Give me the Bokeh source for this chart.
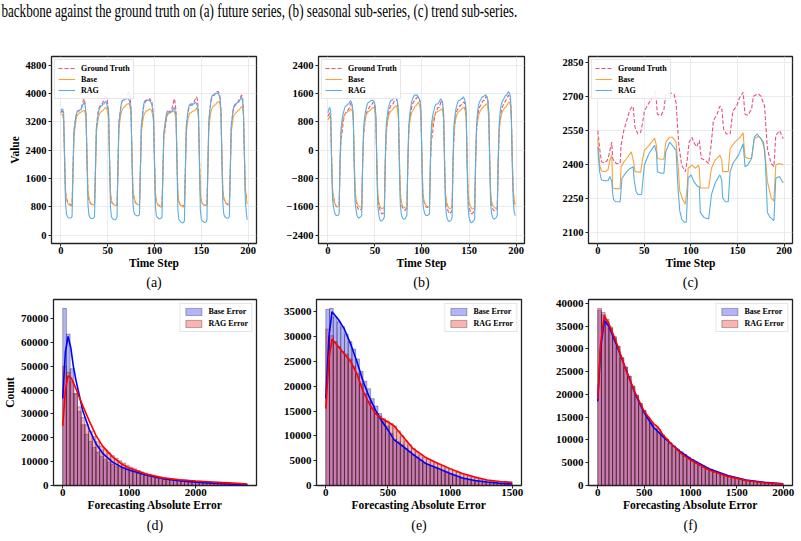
import numpy as np
from bokeh.plotting import figure
from bokeh.models import Range1d, FixedTicker, Title, Div
from bokeh.layouts import column, row
from bokeh.embed import file_html
from bokeh.resources import INLINE

# ---------------------------------------------------------------- data
caption = ("backbone against the ground truth on (a) future series, "
           "(b) seasonal sub-series, (c) trend sub-series.")
panel_labels = ["(a)", "(b)", "(c)", "(d)", "(e)", "(f)"]
series_names = ["Ground Truth", "Base", "RAG"]
hist_names = ["Base Error", "RAG Error"]

time_step = list(range(200))

a_gt = ([3450, 3500, 3480] +
        [3300, 2200, 1200, 1050, 950, 900, 880, 860, 850, 870, 1900, 2950, 3150, 3300, 3450, 3500, 3500, 3520, 3550, 3600, 3700, 3800, 3850, 3700] +
        [3300, 2100, 1150, 1000, 920, 880, 860, 850, 840, 860, 1900, 3000, 3300, 3500, 3600, 3650, 3700, 3700, 3750, 3800, 3850, 3900, 3880, 3700] +
        [3400, 2200, 1150, 950, 900, 870, 850, 840, 830, 860, 1900, 3100, 3400, 3600, 3750, 3800, 3800, 3850, 3850, 3900, 3950, 4000, 4050, 3900] +
        [3500, 2200, 1200, 1050, 950, 900, 880, 860, 850, 870, 1900, 3000, 3300, 3550, 3700, 3750, 3780, 3800, 3800, 3820, 3850, 3800, 3800, 3600] +
        [3300, 2100, 1100, 950, 880, 850, 830, 820, 800, 830, 1800, 2850, 2900, 3100, 3300, 3400, 3500, 3500, 3450, 3500, 3600, 3700, 3850, 3750] +
        [3500, 2200, 1150, 950, 880, 850, 840, 830, 820, 850, 1900, 3000, 3300, 3500, 3600, 3650, 3700, 3700, 3750, 3750, 3800, 3850, 3900, 3800] +
        [3400, 2200, 1150, 950, 900, 860, 850, 840, 830, 860, 1900, 3100, 3500, 3700, 3850, 3900, 3950, 3950, 4000, 4000, 4050, 4050, 4000, 3900] +
        [3500, 2200, 1200, 1050, 950, 900, 880, 860, 850, 870, 1900, 3000, 3300, 3500, 3600, 3650, 3700, 3700, 3750, 3800, 3850, 3900, 3950, 3900] +
        [3500, 2300, 1250, 1100, 1000])
a_base = ([3400, 3420, 3380] +
          [3250, 2300, 1300, 1000, 920, 880, 850, 830, 820, 840, 1800, 2750, 3000, 3200, 3350, 3400, 3420, 3450, 3450, 3480, 3500, 3500, 3520, 3450] +
          [3200, 2200, 1250, 1050, 950, 900, 870, 860, 850, 870, 1800, 2900, 3100, 3300, 3400, 3450, 3480, 3500, 3520, 3550, 3580, 3600, 3580, 3450] +
          [3300, 2200, 1250, 950, 900, 870, 850, 840, 830, 860, 1800, 2950, 3200, 3400, 3500, 3550, 3600, 3620, 3650, 3680, 3700, 3700, 3720, 3600] +
          [3400, 2300, 1300, 1100, 980, 920, 880, 860, 850, 870, 1800, 2900, 3100, 3300, 3400, 3450, 3500, 3500, 3520, 3550, 3550, 3550, 3500, 3400] +
          [3200, 2200, 1200, 950, 880, 840, 820, 800, 780, 800, 1700, 2800, 3000, 3200, 3350, 3400, 3420, 3450, 3450, 3480, 3480, 3500, 3500, 3400] +
          [3300, 2200, 1200, 950, 880, 840, 820, 800, 790, 820, 1800, 2900, 3100, 3300, 3400, 3450, 3450, 3480, 3500, 3500, 3520, 3550, 3600, 3500] +
          [3300, 2200, 1250, 950, 900, 870, 850, 840, 830, 850, 1800, 2950, 3250, 3450, 3550, 3600, 3650, 3650, 3700, 3700, 3750, 3750, 3780, 3700] +
          [3400, 2300, 1300, 1050, 980, 920, 900, 880, 870, 880, 1800, 2900, 3100, 3300, 3400, 3420, 3450, 3480, 3500, 3520, 3550, 3600, 3620, 3600] +
          [3400, 2400, 1350, 1050, 870])
a_rag = ([3500, 3550, 3560] +
         [3450, 2100, 900, 600, 520, 490, 480, 480, 490, 520, 1700, 2900, 3100, 3350, 3450, 3500, 3500, 3520, 3550, 3550, 3650, 3700, 3750, 3650] +
         [3400, 2000, 850, 580, 500, 470, 460, 470, 480, 520, 1800, 3050, 3200, 3450, 3550, 3600, 3650, 3650, 3700, 3700, 3750, 3770, 3700, 3600] +
         [3500, 2100, 800, 520, 470, 440, 430, 430, 450, 500, 1900, 3200, 3350, 3600, 3750, 3800, 3800, 3820, 3850, 3850, 3850, 3850, 3800, 3700] +
         [3550, 2100, 900, 650, 580, 560, 550, 540, 550, 580, 1900, 3100, 3300, 3600, 3750, 3800, 3800, 3820, 3800, 3800, 3780, 3750, 3700, 3550] +
         [3350, 2000, 800, 550, 500, 480, 460, 460, 470, 500, 1700, 2900, 3100, 3300, 3450, 3500, 3480, 3450, 3450, 3500, 3500, 3550, 3600, 3500] +
         [3400, 2000, 700, 450, 400, 370, 350, 340, 350, 400, 1800, 3100, 3300, 3550, 3650, 3700, 3680, 3650, 3700, 3700, 3720, 3750, 3700, 3650] +
         [3450, 2000, 700, 450, 400, 380, 360, 350, 370, 420, 1900, 3200, 3500, 3750, 3900, 3950, 3950, 3950, 4000, 4000, 4000, 4000, 3950, 3850] +
         [3500, 2100, 900, 600, 520, 500, 480, 470, 480, 520, 1900, 3100, 3300, 3550, 3650, 3700, 3700, 3720, 3750, 3750, 3800, 3850, 3900, 3800] +
         [3500, 2200, 1000, 650, 430])

b_gt = ([950, 1000, 1050] +
        [900, -300, -1200, -1350, -1500, -1550, -1600, -1600, -1600, -1550, -400, 300, 450, 700, 900, 1000, 1050, 1100, 1100, 1150, 1200, 1300, 1350, 1200] +
        [900, -300, -1250, -1450, -1600, -1650, -1700, -1700, -1680, -1650, -400, 400, 700, 900, 1050, 1100, 1150, 1200, 1250, 1250, 1300, 1350, 1300, 1200] +
        [900, -300, -1300, -1500, -1650, -1750, -1800, -1800, -1780, -1700, -400, 400, 750, 950, 1100, 1200, 1250, 1300, 1300, 1350, 1400, 1450, 1450, 1300] +
        [1000, -300, -1300, -1500, -1600, -1650, -1700, -1700, -1680, -1650, -400, 500, 850, 1050, 1200, 1300, 1350, 1400, 1450, 1450, 1500, 1500, 1450, 1350] +
        [900, -300, -1300, -1450, -1550, -1600, -1620, -1620, -1600, -1580, -400, 300, 400, 650, 850, 1000, 1100, 1150, 1200, 1200, 1250, 1350, 1400, 1300] +
        [1000, -300, -1300, -1500, -1650, -1750, -1800, -1780, -1750, -1700, -400, 400, 750, 950, 1100, 1150, 1200, 1250, 1250, 1300, 1300, 1350, 1350, 1250] +
        [1000, -300, -1300, -1550, -1700, -1800, -1800, -1780, -1750, -1700, -400, 500, 900, 1100, 1200, 1250, 1300, 1350, 1400, 1400, 1450, 1500, 1500, 1400] +
        [1000, -300, -1300, -1500, -1650, -1700, -1720, -1700, -1680, -1650, -400, 500, 850, 1050, 1200, 1250, 1300, 1350, 1400, 1450, 1500, 1550, 1500, 1400] +
        [900, -300, -1250, -1450, -1600])
b_base = ([850, 900, 950] +
          [850, -200, -1100, -1300, -1450, -1550, -1580, -1600, -1600, -1580, -300, 500, 700, 850, 950, 1000, 1050, 1050, 1080, 1100, 1100, 1150, 1150, 1100] +
          [850, -200, -1150, -1400, -1500, -1550, -1600, -1600, -1600, -1580, -300, 500, 750, 900, 1000, 1050, 1080, 1100, 1120, 1150, 1180, 1200, 1200, 1100] +
          [850, -200, -1200, -1450, -1550, -1620, -1650, -1650, -1640, -1600, -300, 500, 750, 900, 1000, 1050, 1100, 1120, 1150, 1200, 1200, 1250, 1250, 1150] +
          [900, -200, -1200, -1450, -1550, -1600, -1620, -1640, -1640, -1600, -300, 550, 800, 950, 1050, 1100, 1150, 1200, 1250, 1250, 1300, 1350, 1300, 1200] +
          [900, -200, -1200, -1400, -1500, -1550, -1580, -1600, -1600, -1580, -300, 500, 700, 850, 950, 1000, 1050, 1080, 1100, 1100, 1120, 1150, 1150, 1100] +
          [850, -200, -1200, -1450, -1550, -1620, -1650, -1650, -1640, -1600, -300, 500, 750, 900, 1000, 1050, 1080, 1100, 1120, 1150, 1180, 1200, 1200, 1100] +
          [900, -200, -1200, -1450, -1550, -1620, -1650, -1660, -1650, -1620, -300, 600, 800, 950, 1050, 1100, 1150, 1180, 1200, 1250, 1250, 1300, 1300, 1200] +
          [900, -200, -1200, -1450, -1550, -1600, -1620, -1640, -1650, -1620, -300, 550, 800, 950, 1050, 1100, 1150, 1200, 1200, 1250, 1300, 1350, 1350, 1250] +
          [800, -200, -1150, -1400, -1550])
b_rag = ([1050, 1150, 1200] +
         [1100, -400, -1400, -1600, -1750, -1820, -1850, -1850, -1840, -1800, -200, 600, 850, 1000, 1100, 1200, 1250, 1250, 1300, 1300, 1350, 1400, 1350, 1250] +
         [1000, -500, -1500, -1700, -1850, -1900, -1920, -1900, -1880, -1850, -300, 600, 900, 1100, 1200, 1300, 1350, 1350, 1380, 1400, 1400, 1400, 1350, 1300] +
         [1000, -500, -1550, -1800, -1950, -2000, -2000, -1980, -1950, -1900, -300, 700, 950, 1150, 1250, 1350, 1400, 1400, 1450, 1450, 1500, 1500, 1450, 1350] +
         [1100, -500, -1550, -1800, -1900, -1950, -1950, -1950, -1900, -1850, -300, 700, 1000, 1200, 1350, 1450, 1500, 1550, 1550, 1550, 1550, 1500, 1450, 1400] +
         [1100, -500, -1500, -1700, -1800, -1850, -1850, -1850, -1820, -1800, -300, 700, 900, 1050, 1150, 1250, 1300, 1300, 1300, 1350, 1400, 1450, 1400, 1300] +
         [1000, -500, -1550, -1850, -1950, -2000, -2020, -2000, -1980, -1900, -300, 700, 950, 1150, 1250, 1350, 1400, 1400, 1420, 1450, 1450, 1500, 1450, 1350] +
         [1100, -500, -1600, -1900, -2000, -2050, -2050, -2020, -2000, -1950, -300, 700, 1050, 1250, 1350, 1400, 1450, 1500, 1500, 1520, 1550, 1550, 1500, 1400] +
         [1100, -500, -1550, -1800, -1900, -1950, -1950, -1930, -1900, -1850, -300, 700, 1050, 1250, 1350, 1400, 1450, 1500, 1550, 1550, 1600, 1650, 1600, 1500] +
         [1000, -500, -1450, -1750, -1850])

c_gt_step = [0, 2, 4, 7, 10, 12, 14, 15, 16, 18, 20, 24, 25, 28, 31, 34, 37, 38, 40, 43,
             46, 48, 50, 54, 57, 60, 62, 64, 68, 71, 73, 78, 82, 84, 87, 90, 94, 96, 98, 101,
             103, 106, 109, 111, 115, 119, 122, 124, 128, 131, 133, 135, 138, 142, 145, 149, 152, 156, 158, 161,
             165, 167, 172, 175, 179, 182, 186, 189, 191, 195, 199]
c_gt = [2548, 2470, 2411, 2405, 2415, 2440, 2480, 2497, 2425, 2410, 2403, 2403, 2483, 2550, 2591, 2635, 2656, 2650, 2562, 2533,
        2540, 2580, 2635, 2663, 2685, 2705, 2721, 2620, 2615, 2642, 2707, 2714, 2707, 2671, 2483, 2396, 2367, 2420, 2497, 2519,
        2497, 2476, 2505, 2425, 2418, 2403, 2497, 2591, 2620, 2656, 2650, 2555, 2533, 2533, 2635, 2656, 2692, 2717, 2620, 2616,
        2642, 2700, 2711, 2700, 2656, 2468, 2403, 2389, 2526, 2548, 2512]
c_base_step = [0, 2, 4, 8, 11, 13, 15, 16, 19, 24, 25, 28, 31, 36, 38, 40, 46, 48, 50, 55,
               61, 63, 64, 68, 71, 73, 77, 80, 84, 86, 88, 91, 94, 96, 97, 101, 105, 108, 109, 110,
               115, 119, 122, 126, 131, 133, 134, 140, 142, 147, 152, 156, 157, 158, 161, 165, 168, 172, 175, 179,
               182, 186, 189, 191, 195, 199]
c_base = [2512, 2396, 2370, 2367, 2375, 2418, 2440, 2295, 2292, 2292, 2389, 2410, 2425, 2454, 2420, 2367, 2364, 2420, 2461, 2483,
          2515, 2480, 2425, 2422, 2422, 2497, 2519, 2519, 2497, 2400, 2281, 2245, 2223, 2300, 2382, 2396, 2382, 2396, 2380, 2295,
          2295, 2295, 2382, 2418, 2440, 2420, 2367, 2367, 2468, 2497, 2515, 2538, 2480, 2432, 2425, 2425, 2512, 2522, 2515, 2468,
          2324, 2252, 2237, 2396, 2403, 2396]
c_rag_step = [0, 2, 4, 8, 11, 13, 15, 16, 17, 19, 24, 26, 31, 34, 38, 39, 41, 43, 47, 50,
              55, 61, 63, 64, 68, 71, 73, 77, 80, 84, 86, 88, 90, 93, 95, 97, 100, 103, 107, 109,
              110, 114, 119, 122, 126, 131, 133, 134, 137, 140, 142, 145, 151, 156, 157, 158, 161, 165, 168, 171,
              175, 178, 180, 182, 185, 189, 191, 195, 199]
c_rag = [2476, 2367, 2330, 2327, 2327, 2346, 2324, 2270, 2245, 2234, 2234, 2338, 2367, 2379, 2389, 2330, 2281, 2266, 2266, 2396,
         2447, 2483, 2450, 2367, 2360, 2360, 2454, 2497, 2483, 2461, 2300, 2194, 2158, 2143, 2145, 2338, 2353, 2324, 2302, 2300,
         2187, 2165, 2158, 2266, 2317, 2353, 2330, 2252, 2234, 2234, 2367, 2403, 2440, 2490, 2440, 2389, 2396, 2425, 2519, 2533,
         2512, 2497, 2400, 2187, 2165, 2151, 2338, 2346, 2317]

# histograms: 50 equal bins from 0 to the largest error
d_max_err = 2775
d_base = [74300, 63500, 49000, 38500, 31000, 25500, 21500, 18500, 16000, 14000,
          12300, 11000, 9900, 9000, 8200, 7500, 7000, 6600, 6100, 5600,
          5100, 4700, 4300, 3900, 3500, 3200, 3000, 2800, 2650, 2500,
          2350, 2200, 2050, 1900, 1750, 1600, 1450, 1350, 1250, 1150,
          1050, 950, 850, 780, 700, 620, 550, 480, 400, 330]
d_rag = [50000, 47500, 43500, 38500, 33000, 28500, 25500, 22800, 20500, 18300,
         16500, 15000, 13700, 12500, 11400, 10400, 9400, 8500, 7700, 7000,
         6300, 5700, 5200, 4700, 4300, 3900, 3600, 3300, 3050, 2850,
         2700, 2550, 2400, 2250, 2100, 1950, 1850, 1750, 1650, 1550,
         1450, 1350, 1250, 1150, 1050, 950, 850, 780, 700, 630]
d_kde_x = [0, 40, 80, 120, 160, 200, 300, 400, 500, 600, 750, 900, 1000, 1250, 1500, 1750, 2000, 2250, 2500, 2775]
d_kde_base = [36500, 56000, 62500, 58000, 50000, 44000, 31500, 23500, 17500, 13500, 9800, 7500, 6500, 4400, 2900, 2000, 1400, 1000, 650, 300]
d_kde_rag_x = [0, 40, 80, 130, 200, 300, 400, 500, 600, 750, 900, 1000, 1250, 1500, 1750, 2000, 2250, 2500, 2775]
d_kde_rag = [25000, 40000, 46000, 45000, 40500, 33500, 27000, 21000, 16500, 12000, 8800, 7300, 4800, 3200, 2400, 1900, 1500, 1100, 600]

e_max_err = 1500
e_base = [35500, 35700, 34000, 33000, 32000, 30500, 29000, 27500, 25500, 23000,
          21000, 19500, 17500, 16000, 14500, 13000, 12000, 10500, 9300, 8800,
          8200, 7500, 6800, 6200, 5600, 5100, 4600, 4200, 3900, 3600,
          3300, 3000, 2700, 2400, 2100, 1800, 1550, 1350, 1150, 1000,
          900, 800, 700, 600, 520, 460, 400, 350, 300, 260]
e_rag = [31500, 30200, 29000, 28000, 27000, 26500, 25500, 24000, 22500, 20500,
         18500, 17000, 15500, 14500, 14000, 13500, 13000, 12500, 12000, 11000,
         10000, 9000, 8200, 7500, 6800, 6200, 5700, 5300, 4900, 4600,
         4300, 4000, 3600, 3300, 3000, 2700, 2400, 2150, 1900, 1700,
         1500, 1300, 1150, 1000, 900, 820, 760, 700, 650, 600]
e_kde_x = [0, 25, 50, 100, 150, 200, 250, 300, 350, 400, 450, 500, 550, 600, 700, 800, 900, 1000, 1100, 1200, 1300, 1400, 1500]
e_kde_base = [17500, 30000, 35000, 33500, 31500, 28500, 25000, 21000, 17800, 15200, 13000, 11200, 9200, 8300, 6300, 4500, 3500, 2400, 1500, 1000, 700, 450, 300]
e_kde_rag = [15500, 25500, 29500, 28000, 26500, 25000, 22500, 19000, 16500, 14500, 13500, 12800, 12000, 10500, 7500, 5700, 4500, 3400, 2400, 1700, 1100, 800, 650]

f_max_err = 2000
f_base = [38500, 37500, 36000, 34500, 32500, 30500, 28000, 26000, 24000, 21800,
          19800, 18000, 16500, 15000, 13700, 12600, 11800, 11000, 10200, 9400,
          8700, 8000, 7400, 6800, 6200, 5700, 5200, 4700, 4300, 3900,
          3500, 3200, 2900, 2600, 2300, 2100, 1900, 1700, 1500, 1300,
          1150, 1000, 900, 800, 700, 600, 520, 450, 400, 350]
f_rag = [38900, 38000, 36500, 34800, 32700, 30600, 28100, 26000, 24000, 21800,
         19800, 18000, 16400, 15000, 13900, 13100, 12300, 11100, 10200, 9300,
         8500, 7800, 7100, 6500, 5900, 5400, 4900, 4450, 4050, 3650,
         3300, 3000, 2700, 2400, 2150, 1950, 1750, 1550, 1350, 1200,
         1050, 900, 800, 700, 600, 520, 450, 400, 350, 300]
f_kde_x = [0, 30, 70, 120, 200, 300, 400, 500, 600, 650, 700, 800, 900, 1000, 1200, 1400, 1600, 1800, 2000]
f_kde_base = [18500, 30000, 36200, 35000, 31000, 25700, 20300, 16000, 12800, 11800, 10800, 9000, 7300, 5900, 3700, 2200, 1200, 700, 350]
f_kde_rag = [19000, 31000, 37300, 35500, 31500, 25500, 20500, 16300, 13600, 12800, 11200, 9000, 7000, 5600, 3400, 2000, 1100, 600, 300]

ticks_time = [0, 50, 100, 150, 200]
ticks_a = [0, 800, 1600, 2400, 3200, 4000, 4800]
ticks_b = [-2400, -1600, -800, 0, 800, 1600, 2400]
ticks_c = [2100, 2250, 2400, 2550, 2700, 2850]
ticks_dx = [0, 1000, 2000]
ticks_dy = [0, 10000, 20000, 30000, 40000, 50000, 60000, 70000]
ticks_ex = [0, 500, 1000, 1500]
ticks_ey = [0, 5000, 10000, 15000, 20000, 25000, 30000, 35000]
ticks_fx = [0, 500, 1000, 1500, 2000]
ticks_fy = [0, 5000, 10000, 15000, 20000, 25000, 30000, 35000, 40000]

for s in (a_gt, a_base, a_rag, b_gt, b_base, b_rag):
    assert len(s) == 200, len(s)
assert len(c_gt) == len(c_gt_step) and len(c_base) == len(c_base_step) and len(c_rag) == len(c_rag_step)
for s in (d_base, d_rag, e_base, e_rag, f_base, f_rag):
    assert len(s) == 50

# ---------------------------------------------------------------- style
SERIF = "Liberation Serif"
GT_COLOR = "#e8507f"
BASE_COLOR = "#f4a43a"
RAG_COLOR = "#5aaee0"


def make_fig(w, h, bl, br, bt, bb, xr, yr):
    p = figure(width=w, height=h, min_border_left=bl, min_border_right=br,
               min_border_top=bt, min_border_bottom=bb,
               x_range=Range1d(*xr), y_range=Range1d(*yr),
               output_backend="svg", toolbar_location=None)
    p.background_fill_color = "white"
    p.border_fill_color = "white"
    p.outline_line_color = "#222222"
    p.outline_line_width = 1.3
    return p


def style_axes(p, xticks, yticks, tick_size, xlabel=None, ylabel=None, yoverrides=None):
    p.xaxis.ticker = FixedTicker(ticks=xticks)
    p.yaxis.ticker = FixedTicker(ticks=yticks)
    for ax in (p.xaxis[0], p.yaxis[0]):
        ax.axis_line_color = None
        ax.major_tick_in = 0
        ax.major_tick_out = 3
        ax.major_tick_line_color = "#222222"
        ax.major_tick_line_width = 1
        ax.minor_tick_line_color = None
        ax.major_label_text_font = SERIF
        ax.major_label_text_font_style = "bold"
        ax.major_label_text_font_size = tick_size
        ax.major_label_text_color = "black"
        ax.axis_label_text_font = SERIF
        ax.axis_label_text_font_style = "bold"
        ax.axis_label_text_font_size = "11.5px"
        ax.axis_label_text_color = "black"
        ax.axis_label_standoff = 0
    p.xaxis.major_label_standoff = 0
    p.yaxis.major_label_standoff = 2
    if xlabel:
        p.xaxis.axis_label = xlabel
    if ylabel:
        p.yaxis.axis_label = ylabel
        p.yaxis.axis_label_standoff = 2
    if yoverrides:
        p.yaxis.major_label_overrides = yoverrides


def add_panel_label(p, text, standoff):
    p.add_layout(Title(text=text, align="center", text_font=SERIF, text_font_size="14px",
                       text_font_style="normal", text_color="black", standoff=standoff), "below")


def top_panel(w, bl, br, bt, bb, yr, yticks, x_gt, gt, x_base, base, x_rag, rag, label,
              ylabel=None, yoverrides=None):
    xr = (-0.05 * 199, 1.05 * 199)
    p = make_fig(w, 266, bl, br, bt, bb, xr, yr)
    p.line(x_gt, gt, line_color=GT_COLOR, line_width=1.1, line_dash="4 2",
           legend_label=series_names[0])
    p.line(x_base, base, line_color=BASE_COLOR, line_width=1.1, legend_label=series_names[1])
    p.line(x_rag, rag, line_color=RAG_COLOR, line_width=1.1, legend_label=series_names[2])
    style_axes(p, ticks_time, yticks, "10.5px", xlabel="Time Step", ylabel=ylabel, yoverrides=yoverrides)
    p.grid.grid_line_color = "#e6e6e6"
    p.grid.grid_line_width = 0.8
    lg = p.legend[0]
    lg.location = "top_left"
    lg.margin = 3
    lg.padding = 3
    lg.spacing = 1
    lg.glyph_width = 17
    lg.glyph_height = 10
    lg.label_height = 10
    lg.label_standoff = 6
    lg.label_text_font = SERIF
    lg.label_text_font_style = "bold"
    lg.label_text_font_size = "8px"
    lg.label_text_color = "black"
    lg.border_line_color = "#cccccc"
    lg.border_line_width = 1
    lg.background_fill_alpha = 0.85
    add_panel_label(p, label, 2)
    return p


def hist_panel(w, bl, br, bt, max_err, base, rag, kx_b, kb, kx_r, kr, xticks, yticks, label,
               ylabel=None):
    edges = np.linspace(0, max_err, len(base) + 1)
    top = max(max(base), max(rag)) * 1.05
    p = make_fig(w, 247, bl, br, bt, 56, (-0.05 * max_err, 1.05 * max_err), (0, top))
    p.quad(left=edges[:-1], right=edges[1:], bottom=0, top=base, fill_color="blue",
           fill_alpha=0.3, line_color="#222222", line_alpha=0.6, line_width=0.6,
           legend_label=hist_names[0])
    p.quad(left=edges[:-1], right=edges[1:], bottom=0, top=rag, fill_color="red",
           fill_alpha=0.3, line_color="#222222", line_alpha=0.6, line_width=0.6,
           legend_label=hist_names[1])
    p.line(kx_b, kb, line_color="blue", line_width=1.6)
    p.line(kx_r, kr, line_color="red", line_width=1.6)
    style_axes(p, xticks, yticks, "11px", xlabel="Forecasting Absolute Error", ylabel=ylabel)
    p.grid.visible = False
    lg = p.legend[0]
    lg.location = "top_right"
    lg.margin = 4
    lg.padding = 3
    lg.spacing = 3
    lg.glyph_width = 20
    lg.glyph_height = 9
    lg.label_height = 9
    lg.label_standoff = 5
    lg.label_text_font = SERIF
    lg.label_text_font_style = "bold"
    lg.label_text_font_size = "8px"
    lg.label_text_color = "black"
    lg.border_line_color = "#cccccc"
    lg.border_line_width = 1
    lg.background_fill_alpha = 0.85
    add_panel_label(p, label, 4)
    return p


minus = {v: str(v).replace("-", "\u2212") for v in ticks_b}

pa = top_panel(280, 51, 24, 28, 48, (-240, 5040), ticks_a, time_step, a_gt, time_step, a_base,
               time_step, a_rag, panel_labels[0], ylabel="Value")
pb = top_panel(272, 38, 28, 25, 51, (-2640, 2640), ticks_b, time_step, b_gt, time_step, b_base,
               time_step, b_rag, panel_labels[1], yoverrides=minus)
pc = top_panel(249, 36, 9, 25, 51, (2050, 2875), ticks_c, c_gt_step, c_gt, c_base_step, c_base,
               c_rag_step, c_rag, panel_labels[2])

pd = hist_panel(280, 51, 24, 5, d_max_err, d_base, d_rag, d_kde_x, d_kde_base, d_kde_rag_x,
                d_kde_rag, ticks_dx, ticks_dy, panel_labels[3], ylabel="Count")
pe = hist_panel(272, 36, 31, 3, e_max_err, e_base, e_rag, e_kde_x, e_kde_base, e_kde_x,
                e_kde_rag, ticks_ex, ticks_ey, panel_labels[4])
pf = hist_panel(249, 36, 9, 2, f_max_err, f_base, f_rag, f_kde_x, f_kde_base, f_kde_x,
                f_kde_rag, ticks_fx, ticks_fy, panel_labels[5])

cap = Div(text=caption, width=801, height=28, margin=0,
          styles={"font-family": "'Liberation Serif', serif", "font-size": "19px",
                  "line-height": "22px", "white-space": "nowrap", "color": "black",
                  "transform": "scaleX(0.69)", "transform-origin": "0 0",
                  "padding-left": "2px"})

layout = column(cap, row(pa, pb, pc), row(pd, pe, pf))

open("out.html", "w").write(file_html(layout, INLINE))
